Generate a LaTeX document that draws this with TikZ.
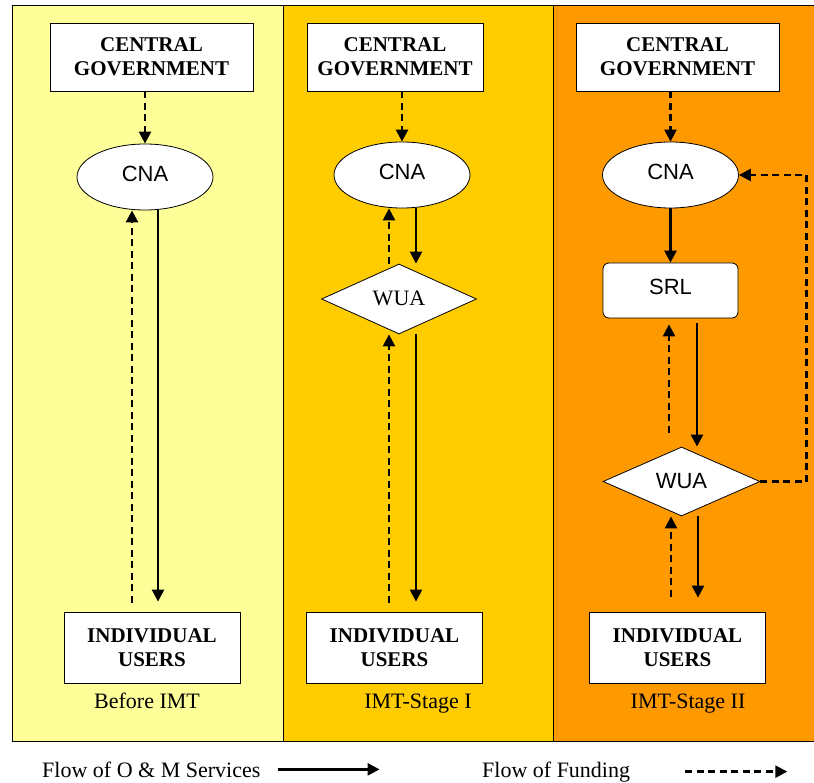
\documentclass[tikz,border=0pt]{standalone}
\usepackage{fontspec}
\setmainfont{Liberation Serif}
\setsansfont{Liberation Sans}
\usetikzlibrary{arrows.meta,shapes.geometric}
\definecolor{stage0}{HTML}{FFFF99}
\definecolor{stage1}{HTML}{FFCC00}
\definecolor{stage2}{HTML}{FF9900}
\tikzset{
  govbox/.style={draw, fill=white, line width=0.8pt, minimum height=68, inner sep=0,
    align=center, font=\fontsize{21}{24}\selectfont\bfseries},
  userbox/.style={govbox, minimum width=176, minimum height=71},
  agency/.style={draw, fill=white, ellipse, line width=0.8pt, minimum width=136,
    minimum height=66, inner sep=0, text depth=7pt, font=\sffamily\fontsize{22}{26}\selectfont},
  srlbox/.style={agency, rectangle, rounded corners=6pt, minimum width=135, minimum height=55},
  wuabox/.style={agency, diamond, text depth=2pt, minimum width=155, minimum height=70},
  stagelabel/.style={anchor=base, inner sep=0, font=\fontsize{22}{26}\selectfont},
  keylabel/.style={anchor=base west, inner sep=0, font=\fontsize{22}{26}\selectfont},
  service/.style={line width=2.5pt, -{Triangle[length=12pt,width=12pt]}},
  funding/.style={service, dash pattern=on 7pt off 4.5pt},
}
\begin{document}
\begin{tikzpicture}[x=1pt, y=-1pt]
\useasboundingbox (0,0) rectangle (814,783);
% the three stages
\fill[stage0] (12,6) rectangle (283,741);
\fill[stage1] (283,6) rectangle (553,741);
\fill[stage2] (553,6) rectangle (816,741);
\draw[line width=1pt] (12,6) rectangle (816,741) (283,6) -- (283,741) (553,6) -- (553,741);

% before IMT
\node[govbox, minimum width=203] (cgA) at (151.5,57) {CENTRAL\\GOVERNMENT};
\node[agency] (cnaA) at (145,177) {CNA};
\node[userbox] (iuA) at (152,647.5) {INDIVIDUAL\\USERS};
\node[stagelabel] (nameA) at (147,708) {Before IMT};
\draw[funding] (cgA.south -| cnaA.north) -- (cnaA.north);
\draw[service, shorten >=10pt] ([xshift=13pt]cnaA.south) -- ([xshift=13pt]cnaA.south |- iuA.north);
\draw[funding, shorten <=9pt] ([xshift=-13pt]cnaA.south |- iuA.north) -- ([xshift=-13pt]cnaA.south);

% IMT stage I
\node[govbox, minimum width=176] (cgB) at (395,57) {CENTRAL\\GOVERNMENT};
\node[agency] (cnaB) at (402,175) {CNA};
\node[wuabox, font=\fontsize{22}{26}\selectfont] (wuaB) at (399,299) {WUA};
\node[userbox] (iuB) at (394.5,647.5) {INDIVIDUAL\\USERS};
\node[stagelabel] (nameB) at (418,708) {IMT-Stage I};
\draw[funding] (cgB.south -| cnaB.north) -- (cnaB.north);
\draw[service] ([xshift=14pt]cnaB.south) -- ([xshift=14pt]cnaB.south |- wuaB.north);
\draw[funding] ([xshift=-13pt]cnaB.south |- wuaB.north) -- ([xshift=-13pt]cnaB.south);
\draw[funding, shorten <=9pt] ([xshift=-13pt]cnaB.south |- iuB.north) -- ([xshift=-13pt]cnaB.south |- wuaB.south);
\draw[service, shorten >=10pt] ([xshift=14pt]cnaB.south |- wuaB.south) -- ([xshift=14pt]cnaB.south |- iuB.north);

% IMT stage II
\node[govbox, minimum width=203] (cgC) at (677.5,57) {CENTRAL\\GOVERNMENT};
\node[agency] (cnaC) at (670.5,175) {CNA};
\node[srlbox] (srlC) at (670.5,290.5) {SRL};
\node[wuabox, minimum width=157, minimum height=69] (wuaC) at (681.5,481.5) {WUA};
\node[userbox] (iuC) at (677.5,647.5) {INDIVIDUAL\\USERS};
\node[stagelabel] (nameC) at (688,708) {IMT-Stage II};
\draw[funding] (cgC.south -| cnaC.north) -- (cnaC.north);
\draw[service] (cnaC.south) -- (srlC.north);
\draw[funding, shorten <=14pt, shorten >=6pt] ([xshift=-1.5pt]srlC.south |- wuaC.north) -- ([xshift=-1.5pt]srlC.south);
\draw[service, shorten <=5pt] ([xshift=26.5pt]srlC.south) -- ([xshift=26.5pt]srlC.south |- wuaC.north);
\draw[funding, shorten <=15pt] ([xshift=-10.5pt]wuaC.south |- iuC.north) -- ([xshift=-10.5pt]wuaC.south);
\draw[service, shorten >=14pt] ([xshift=16.5pt]wuaC.south) -- ([xshift=16.5pt]wuaC.south |- iuC.north);
\draw[funding] (wuaC.east) -- ++(46,0) |- (cnaC.east);

% key
\node[keylabel] (keyA) at (42,777) {Flow of O \& M Services};
\draw[service] ([xshift=17pt]keyA.east) -- ++(102,0);
\node[keylabel] (keyB) at (482,777) {Flow of Funding};
\draw[funding] ([xshift=55pt]keyB.east) -- ++(102,0);
\end{tikzpicture}
\end{document}
